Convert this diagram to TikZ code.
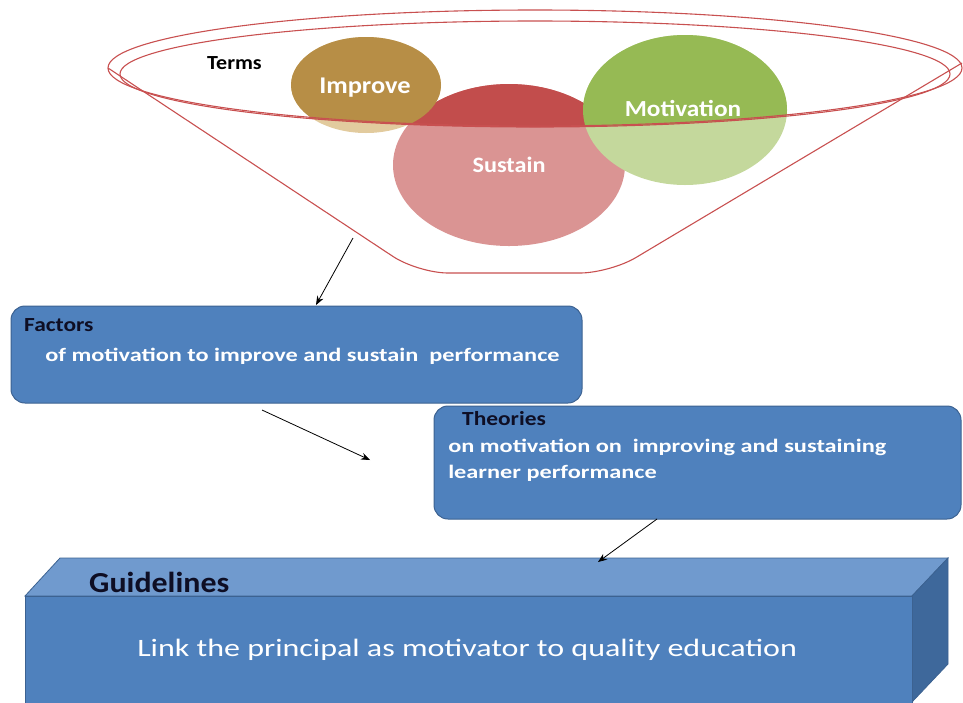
\documentclass[tikz,border=0pt]{standalone}
\usepackage{fontspec}
\setmainfont{Carlito}
\usetikzlibrary{arrows.meta}
\definecolor{impD}{RGB}{183,142,70}
\definecolor{impL}{RGB}{226,203,158}
\definecolor{susD}{RGB}{194,77,76}
\definecolor{susL}{RGB}{218,148,147}
\definecolor{motD}{RGB}{150,186,84}
\definecolor{motL}{RGB}{196,216,156}
\definecolor{funnel}{RGB}{200,80,80}
\definecolor{boxblue}{RGB}{79,129,189}
\definecolor{boxedge}{RGB}{60,98,145}
\definecolor{topface}{RGB}{112,154,206}
\definecolor{sideface}{RGB}{62,104,155}
\definecolor{darktext}{RGB}{14,14,36}
\tikzset{
  funnelline/.style={draw=funnel, line width=1.1pt},
  termtext/.style={text=white, font=\bfseries\fontsize{22}{26}\selectfont, inner sep=0pt, anchor=base, xscale=1.1},
  headtext/.style={text=darktext, font=\bfseries\fontsize{20}{24}\selectfont, inner sep=0pt, anchor=base west, xscale=1.17},
  bodytext/.style={text=white, font=\bfseries\fontsize{19}{25}\selectfont, inner sep=0pt, anchor=base west, xscale=1.28},
  bluebox/.style={draw=boxedge, line width=1pt, fill=boxblue, rounded corners=14pt},
  conn/.style={-{Stealth[length=9pt,width=7pt]}, line width=0.8pt, black}
}
\begin{document}
\begin{tikzpicture}[x=1pt,y=-1pt]
\useasboundingbox (0,0) rectangle (963,702);
% circles (light parts)
\fill[susL] (509,165) ellipse [x radius=116pt, y radius=81pt];
\fill[impL] (366,85) ellipse [x radius=75pt, y radius=48pt];
\fill[motL] (685,110) ellipse [x radius=102pt, y radius=75pt];
% dark parts inside the inner ellipse
\begin{scope}
  \clip (535,74) ellipse [x radius=415pt, y radius=53pt];
  \fill[susD] (509,165) ellipse [x radius=116pt, y radius=81pt];
  \fill[impD] (366,85) ellipse [x radius=75pt, y radius=48pt];
  \fill[motD] (685,110) ellipse [x radius=102pt, y radius=75pt];
\end{scope}
% funnel
\draw[funnelline] (535,68) ellipse [x radius=427pt, y radius=58pt];
\draw[funnelline] (535,74) ellipse [x radius=415pt, y radius=53pt];
\draw[funnelline, rounded corners=30pt] (108,68) -- (418,273) -- (610,273) -- (962,63);
% term labels
\node[text=black, font=\bfseries\fontsize{20}{24}\selectfont, inner sep=0pt, anchor=base west, xscale=1.1] (terms) at (207,69) {Terms};
\node[termtext, font=\bfseries\fontsize{24}{28}\selectfont] (improve) at (365,93) {Improve};
\node[termtext] (sustain) at (509,172) {Sustain};
\node[termtext, font=\bfseries\fontsize{23}{27}\selectfont] (motivation) at (683,116) {Motivation};
% factors box
\node[bluebox, minimum width=571pt, minimum height=97pt] (factors) at (296.5,354.5) {};
\node[headtext] (factorshead) at (24,331) {Factors};
\node[bodytext] (factorsbody) at (45,361) {of motivation to improve and sustain\ \ performance};
% theories box
\node[bluebox, minimum width=527pt, minimum height=113pt] (theories) at (697.5,462.5) {};
\node[headtext] (theorieshead) at (462,425) {Theories};
\node[bodytext] (theoriesbody1) at (448,452) {on motivation on\ \ improving and sustaining};
\node[bodytext] (theoriesbody2) at (448,478) {learner performance};
% guidelines cuboid
\fill[topface, draw=boxedge, line width=0.8pt] (25,596) -- (60,558) -- (948,558) -- (912,596) -- cycle;
\fill[sideface, draw=boxedge, line width=0.8pt] (912,596) -- (948,558) -- (948,664) -- (912,702) -- cycle;
\node[fill=boxblue, draw=boxedge, line width=0.8pt, minimum width=887pt, minimum height=108pt, inner sep=0pt] (guidelines) at (468.5,650) {};
\node[text=darktext, font=\bfseries\fontsize{29}{34}\selectfont, inner sep=0pt, anchor=base west, xscale=1.1] (guidehead) at (89,592) {Guidelines};
\node[text=white, font=\fontsize{25}{30}\selectfont, inner sep=0pt, anchor=base west, xscale=1.28] (guidebody) at (137,656) {Link the principal as motivator to quality education};
% connectors
\coordinate (a1s) at (353,238);
\coordinate (a1e) at (316,305);
\coordinate (a2s) at (262,410);
\coordinate (a2e) at (370,460);
\coordinate (a3s) at (657,519);
\coordinate (a3e) at (598,562);
\draw[conn] (a1s) -- (a1e);
\draw[conn] (a2s) -- (a2e);
\draw[conn] (a3s) -- (a3e);
\end{tikzpicture}
\end{document}
